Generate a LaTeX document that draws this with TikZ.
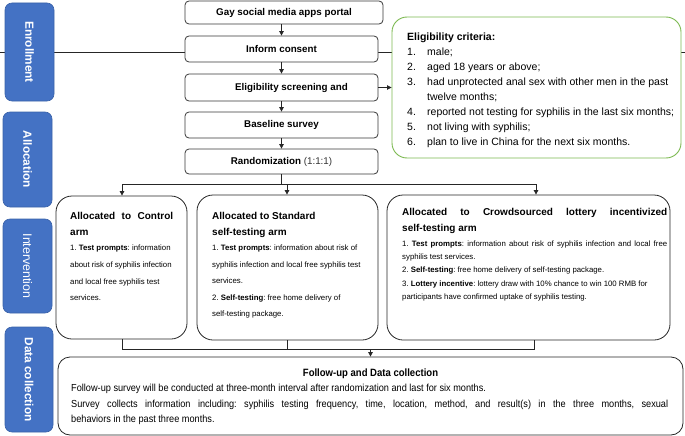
\documentclass[tikz,border=0pt]{standalone}
\usepackage{fontspec}
\usepackage{graphicx}
\setmainfont{Liberation Sans}
\newfontfamily\narrowfont[FakeStretch=0.9]{Liberation Sans}
\usetikzlibrary{arrows.meta,backgrounds}
\definecolor{lblblue}{HTML}{4472C4}
\definecolor{lblborder}{HTML}{3A62A8}
\definecolor{critgreen}{HTML}{7CB950}
\definecolor{boxgray}{HTML}{383838}
\frenchspacing
\begin{document}
\begin{tikzpicture}[x=1pt,y=-1pt,
 flowbox/.style={draw=boxgray, line width=0.8pt, rounded corners=4pt, fill=white, minimum width=193pt, inner sep=0pt, font=\fontsize{9.8}{11}\selectfont\bfseries},
 phase/.style={draw=lblborder, fill=lblblue, rounded corners=7pt, line width=0.6pt, minimum width=49pt, inner sep=0pt, text=white, font=\fontsize{11.8}{13}\selectfont\bfseries},
 armbox/.style={draw=black!85, line width=0.8pt, rounded corners=16pt, fill=white, inner sep=0pt},
 conn/.style={draw=black!85, line width=0.8pt},
 arr/.style={conn, -{Triangle[length=4.5pt,width=4.5pt]}},
 txt/.style={inner sep=0pt, anchor=north west, align=left},
 armtitle/.style={txt, font=\fontsize{10}{16}\selectfont\bfseries},
 armitems/.style={txt, font=\fontsize{7.8}{16.7}\selectfont}
]
\useasboundingbox (0,0) rectangle (685,436);

% horizontal guide line through enrollment
\coordinate (L) at (0,52);
\coordinate (R) at (685,52);

% phase labels
\node[phase, minimum height=98pt] (enroll) at (29.5,52) {\rotatebox{-90}{Enrollment}};
\node[phase, minimum height=95pt] (alloc) at (27.5,159.5) {\rotatebox{-90}{Allocation}};
\node[phase, minimum height=94pt, font=\fontsize{12.4}{13}\selectfont] (interv) at (27.5,266) {\rotatebox{-90}{Intervention}};
\node[phase, minimum height=105pt, minimum width=48pt] (datac) at (29,379.5) {\rotatebox{-90}{Data collection}};

% flow boxes
\node[flowbox, minimum width=198pt, minimum height=23pt] (gay) at (284,12.5) {Gay social media apps portal};
\node[flowbox, minimum height=26pt] (inform) at (281.5,49) {Inform consent};
\node[flowbox, minimum height=27pt] (elig) at (281.5,87.5) {\hspace*{20pt}Eligibility screening and};
\node[flowbox, minimum height=26pt] (base) at (281.5,125) {Baseline survey};
\node[flowbox, minimum height=25pt] (rand) at (281.5,161.5) {Randomization {\mdseries\color{black!80}(1:1:1)}};

% eligibility criteria
\node[draw=critgreen, line width=0.9pt, rounded corners=15pt, fill=white, minimum width=289pt, minimum height=141pt, inner sep=0pt] (crit) at (536.5,87.5) {};
\node[txt, font=\fontsize{10.5}{15}\selectfont] (crittext) at (407,33) {\textbf{Eligibility criteria:}\\
\makebox[20pt][l]{1.}male;\\
\makebox[20pt][l]{2.}aged 18 years or above;\\
\makebox[20pt][l]{3.}had unprotected anal sex with other men in the past\\
\hspace*{20pt}twelve months;\\
\makebox[20pt][l]{4.}reported not testing for syphilis in the last six months;\\
\makebox[20pt][l]{5.}not living with syphilis;\\
\makebox[20pt][l]{6.}plan to live in China for the next six months.};

% arm boxes
\node[armbox, minimum width=131pt, minimum height=143pt] (control) at (121.5,267.5) {};
\node[armbox, minimum width=181pt, minimum height=145pt] (standard) at (287.5,267.5) {};
\node[armbox, minimum width=283pt, minimum height=145pt] (crowd) at (528.5,267.5) {};

\node[armtitle] (ctitle) at (70,211.8) {\hbox to 103pt{Allocated to Control}\\arm};
\node[armitems] (citems) at (70,244.8) {1. \textbf{Test prompts}: information\\
about risk of syphilis infection\\
and local free syphilis test\\
services.};

\node[armtitle] (stitle) at (212,211.8) {Allocated to Standard\\self-testing arm};
\node[armitems, font=\fontsize{7.8}{16.5}\selectfont] (sitems) at (212,244.8) {1. \textbf{Test prompts}: information about risk of\\
syphilis infection and local free syphilis test\\
services.\\
2. \textbf{Self-testing}: free home delivery of\\
self-testing package.};

\node[armtitle] (crtitle) at (402,207.8) {\hbox to 265pt{Allocated to Crowdsourced lottery incentivized}\\self-testing arm};
\node[armitems, font=\fontsize{7.8}{13.3}\selectfont] (critems) at (402,240.3) {\hbox to 265pt{1. \textbf{Test prompts}: information about risk of syphilis infection and local free}\\
syphilis test services.\\
2. \textbf{Self-testing}: free home delivery of self-testing package.\\
3. \textbf{Lottery incentive}: lottery draw with 10\% chance to win 100 RMB for\\
participants have confirmed uptake of syphilis testing.};

% follow-up box
\node[armbox, rounded corners=12pt, minimum width=625pt, minimum height=78pt] (follow) at (370.5,396) {};
\node[inner sep=0pt, anchor=base, font=\narrowfont\fontsize{10.6}{12}\selectfont\bfseries] (ftitle) at (370.5,376.5) {Follow-up and Data collection};
\node[txt, font=\narrowfont\fontsize{10.2}{15.5}\selectfont] (ftext) at (71,384.2) {Follow-up survey will be conducted at three-month interval after randomization and last for six months.\\
\hbox to 597pt{Survey collects information including: syphilis testing frequency, time, location, method, and result(s) in the three months, sexual}\\
behaviors in the past three months.};

% connectors
\begin{scope}[on background layer]
\draw[conn] (L) -- (L -| inform.west);
\draw[conn] (L -| inform.east) -- (L -| crit.west);
\draw[conn] (L -| crit.east) -- (R);
\end{scope}

\draw[arr] (gay.south -| inform.north) -- (inform.north);
\draw[arr] (inform.south) -- (elig.north);
\draw[arr] (elig.south) -- (base.north);
\draw[arr] (base.south) -- (rand.north);
\draw[arr] (elig.east) -- (elig.east -| crit.west);

\coordinate (bj) at (281.5,184);
\coordinate (c1) at (122,184);
\coordinate (c2) at (287,184);
\coordinate (c3) at (536,184);
\draw[conn] (rand.south) -- (bj);
\draw[conn] (c1) -- (c3);
\draw[arr] (c1) -- (c1 |- control.north);
\draw[arr] (c2) -- (c2 |- standard.north);
\draw[arr] (c3) -- (c3 |- crowd.north);

\coordinate (d1) at (122,349);
\coordinate (d2) at (287,349);
\coordinate (d3) at (534,349);
\draw[conn] (d1 |- control.south) -- (d1) -- (d3) -- (d3 |- crowd.south);
\draw[conn] (d2 |- standard.south) -- (d2);
\draw[arr] (d1 -| follow.north) -- (follow.north);
\end{tikzpicture}
\end{document}
